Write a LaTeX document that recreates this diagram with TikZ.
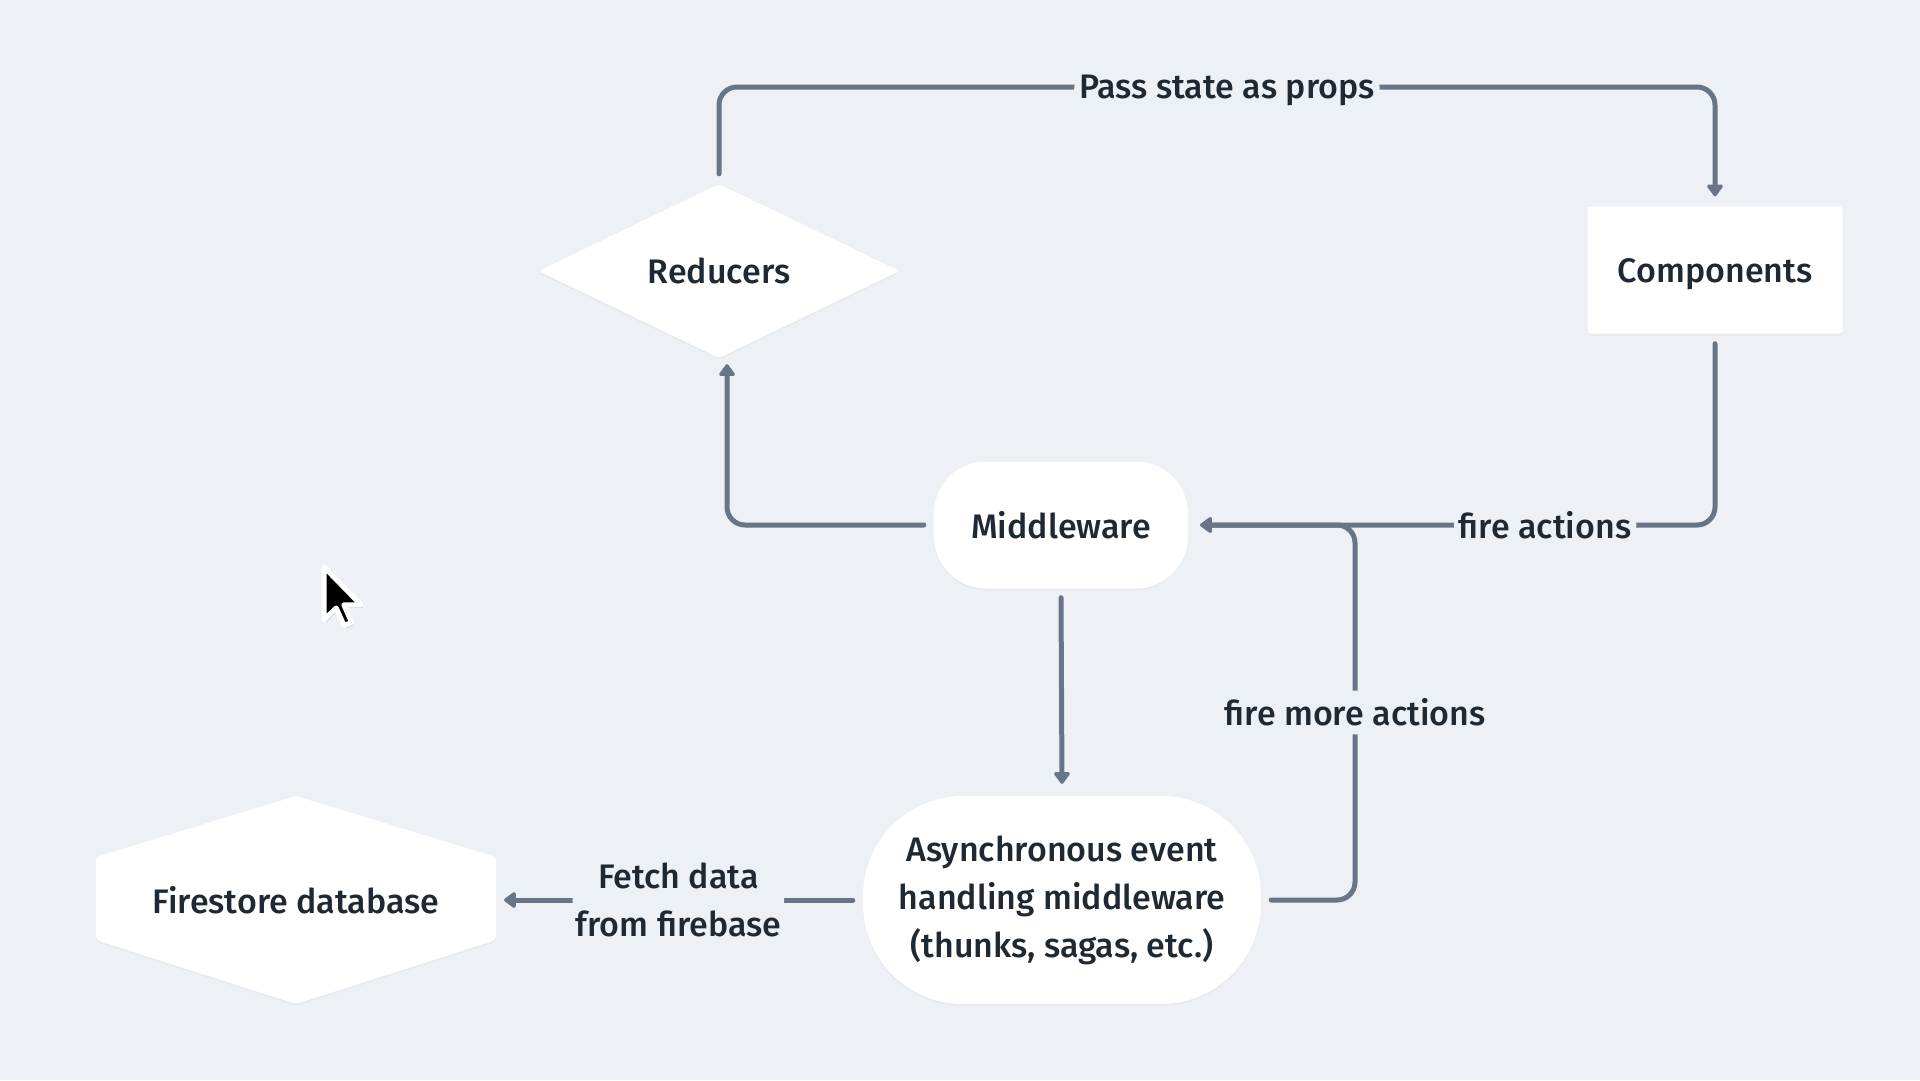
\documentclass[tikz,border=0pt]{standalone}
\usepackage{fontspec}
\setmainfont{Fira Sans}[UprightFont=* Medium]
\usetikzlibrary{arrows.meta,shapes.geometric,shadows,calc}
\definecolor{bgc}{RGB}{237,241,246}
\definecolor{linec}{RGB}{104,117,135}
\definecolor{txtc}{RGB}{31,41,51}
\begin{document}
\begin{tikzpicture}[x=1pt,y=-1pt,
  every node/.style={text=txtc, font=\fontsize{34}{48}\selectfont},
  box/.style={fill=white, draw=none, inner sep=0pt, rounded corners=4pt,
    drop shadow={opacity=0.05, shadow xshift=0pt, shadow yshift=-2pt}},
  conn/.style={draw=linec, line width=5pt, rounded corners=18pt, line cap=round,
    -{Triangle[length=13pt,width=18pt,round]}},
  lab/.style={fill=bgc, inner xsep=5pt, inner ysep=8pt, align=center}]
\fill[bgc] (0,0) rectangle (1920,1080);
\useasboundingbox (0,0) rectangle (1920,1080);

% nodes
\node[box, diamond, aspect=2.07, minimum width=361pt, minimum height=174pt] (red) at (719,271) {Reducers};
\node[box, rectangle, rounded corners=3pt, minimum width=255pt, minimum height=127pt, text height=24pt, text depth=0pt] (comp) at (1715,270) {Components};
\node[box, rounded corners=52pt, minimum width=254pt, minimum height=127pt] (mid) at (1061,525) {Middleware};
\node[box, rounded corners=100pt, minimum width=398pt, minimum height=208pt, align=center] (async) at (1062,900) {Asynchronous event\\handling middleware\\(thunks, sagas, etc.)};
\fill[white, rounded corners=4pt, drop shadow={opacity=0.05, shadow xshift=0pt, shadow yshift=-2pt}]
  (296,796) -- (496,857) -- (496,940) -- (296,1004) -- (96,940) -- (96,857) -- cycle;
\node (fire) at (296,900) {Firestore database};
\coordinate (fireE) at (504,900);
\coordinate (topy) at (0,87);
\coordinate (jx) at (1355,0);

% connectors
\draw[conn] ([yshift=10pt]red.north) -- (red.north |- topy)
  -- node[lab, inner ysep=4pt, pos=0.51, yshift=-3pt]{Pass state as props} (comp.north |- topy)
  -- ([yshift=10pt]comp.north);
\draw[conn] ([xshift=-10pt]mid.west) -| ([xshift=8pt,yshift=-6pt]red.south);
\draw[conn] ([yshift=-10pt]comp.south) -- (comp.south |- mid.east)
  -- node[lab, inner ysep=4pt, pos=0.33]{fire actions} ([xshift=12pt]mid.east);
\draw[conn] ([xshift=10pt]async.east) -- (jx |- async.east)
  -- node[lab]{fire more actions} (jx |- mid.east) -- ([xshift=12pt]mid.east);
\draw[conn] ([yshift=-9pt]mid.south) -- ([yshift=12pt]async.north);
\draw[conn] ([xshift=-10pt]async.west) -- node[lab, inner xsep=3pt]{Fetch data\\from firebase} (fireE);

% mouse cursor
\begin{scope}[shift={(324,567)}, scale=3.2]
\filldraw[fill=black, draw=white, line width=5pt, line join=round,
  drop shadow={opacity=0.25, shadow xshift=2pt, shadow yshift=-3pt}]
  (0,0) -- (0,16.5) -- (3.8,12.8) -- (6.3,18.3) -- (8.6,17.3) -- (6.2,11.8) -- (11.5,11.8) -- cycle;
\end{scope}
\end{tikzpicture}
\end{document}
